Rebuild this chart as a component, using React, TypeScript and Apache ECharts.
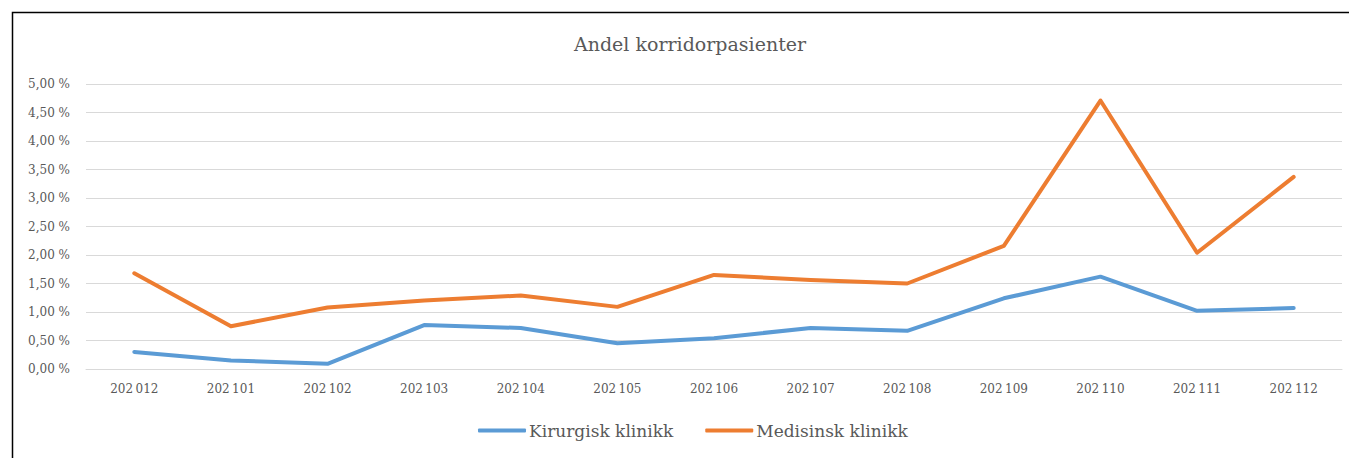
import React, { useEffect, useRef } from "react";
import * as echarts from "echarts";

const categories = ["202012", "202101", "202102", "202103", "202104", "202105", "202106", "202107", "202108", "202109", "202110", "202111", "202112"];
const kirurgisk = [0.30, 0.15, 0.09, 0.77, 0.72, 0.45, 0.54, 0.72, 0.67, 1.24, 1.62, 1.02, 1.07];
const medisinsk = [1.68, 0.75, 1.08, 1.20, 1.29, 1.09, 1.65, 1.56, 1.50, 2.16, 4.71, 2.04, 3.37];
const seriesNames = ["Kirurgisk klinikk", "Medisinsk klinikk"];
const title = "Andel korridorpasienter";

const FONT = "'DejaVu Serif', serif";

export default function App() {
  const ref = useRef<HTMLDivElement>(null);
  useEffect(() => {
    const chart = echarts.init(ref.current!, null, { renderer: "svg" });
    chart.setOption({
      animation: false,
      backgroundColor: "#ffffff",
      title: {
        text: title,
        left: 569,
        top: 29,
        textStyle: { fontFamily: FONT, fontSize: 19, fontWeight: "normal", color: "#595959" },
      },
      graphic: [
        {
          type: "rect",
          left: 10,
          top: 10,
          shape: { x: 0, y: 0, width: 1400, height: 500 },
          style: { fill: "none", stroke: "#000000", lineWidth: 1.5 },
          silent: true,
        },
      ],
      legend: {
        bottom: 14,
        left: 473,
        itemWidth: 48,
        itemHeight: 4,
        itemGap: 32,
        icon: "roundRect",
        textStyle: { fontFamily: FONT, fontSize: 17, color: "#595959", padding: [0, 0, 0, -2] },
        data: seriesNames,
      },
      grid: { left: 86, right: 7, top: 84, bottom: 89, containLabel: false },
      xAxis: {
        type: "category",
        data: categories,
        boundaryGap: true,
        axisLine: { show: true, lineStyle: { color: "#D9D9D9" } },
        axisTick: { show: false },
        axisLabel: {
          fontFamily: FONT,
          fontSize: 12,
          color: "#595959",
          margin: 14,
          formatter: (v: string) => v.slice(0, 3) + "\u2009" + v.slice(3),
        },
      },
      yAxis: {
        type: "value",
        min: 0,
        max: 5,
        interval: 0.5,
        axisLine: { show: false },
        axisTick: { show: false },
        splitLine: { lineStyle: { color: "#D9D9D9", width: 1 } },
        axisLabel: {
          fontFamily: FONT,
          fontSize: 12,
          color: "#595959",
          margin: 16,
          formatter: (v: number) => v.toFixed(2).replace(".", ",") + " %",
        },
      },
      series: [
        {
          name: seriesNames[0],
          type: "line",
          data: kirurgisk,
          symbol: "none",
          lineStyle: { width: 4, color: "#5B9BD5", join: "round", cap: "round" },
          itemStyle: { color: "#5B9BD5" },
        },
        {
          name: seriesNames[1],
          type: "line",
          data: medisinsk,
          symbol: "none",
          lineStyle: { width: 4, color: "#ED7D31", join: "round", cap: "round" },
          itemStyle: { color: "#ED7D31" },
        },
      ],
    });
    return () => chart.dispose();
  }, []);
  return (
    <div
      ref={ref}
      style={{ position: "fixed", left: 0, top: 0, width: 1349, height: 458 }}
    />
  );
}
